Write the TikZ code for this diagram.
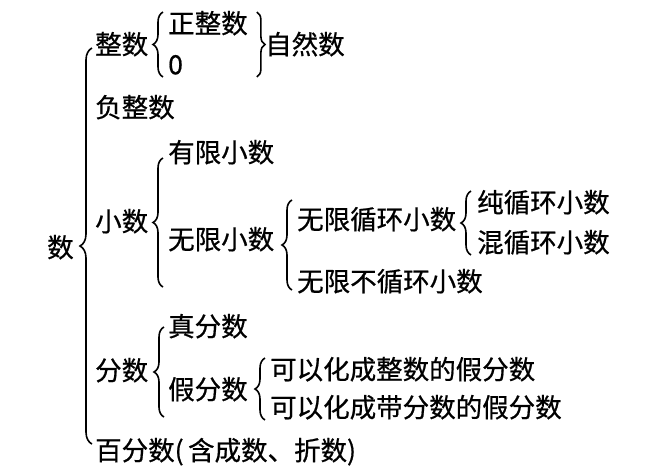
\documentclass[tikz,border=0pt]{standalone}
\usepackage{fontspec}
\setmainfont{Noto Sans CJK SC}[FakeBold=0.7]
\usepackage{tikz}
\usetikzlibrary{calc,decorations.pathreplacing}

\begin{document}
\begin{tikzpicture}[x=1pt,y=1pt,
  lbl/.style={anchor=west,inner sep=0pt,text height=21pt,text depth=2.5pt,
    font=\fontsize{26.5pt}{30pt}\selectfont},
  brc/.style={decorate,decoration={brace,amplitude=#1},line width=1.6pt},
  brc/.default=10pt]
  \useasboundingbox (0,0) rectangle (650,-472);
  % root and first level
  \node[lbl] (shu) at (47,-248) {数};
  \node[lbl] (zhengshu) at (95,-45) {整数};
  \node[lbl] (fuzheng) at (95,-108) {负整数};
  \node[lbl] (xiaoshu) at (95,-222) {小数};
  \node[lbl] (fenshu) at (95,-371) {分数};
  \node[lbl] (baifen) at (95,-451) {百分数(\,含成数、折数)};
  \draw[brc=12pt] ($(baifen.north west)+(-3,-5)$) -- ($(zhengshu.west)+(-3,-3)$);
  % integers
  \node[lbl] (zzs) at (168,-24) {正整数};
  \node[lbl] (ling) at (168,-65) {0};
  \draw[brc] ($(ling.south west)+(-5,0)$) -- ($(zzs.north west)+(-5,0)$);
  \draw[brc=8pt] ($(zzs.north east)+(9,0)$) -- ($(zzs.east |- ling.south)+(9,0)$);
  \node[lbl] (ziran) at (265,-45) {自然数};
  % decimals
  \node[lbl] (youxian) at (168,-153) {有限小数};
  \node[lbl] (wuxian) at (168,-240) {无限小数};
  \node[lbl] (wxxh) at (297,-220) {无限循环小数};
  \node[lbl] (wxbxh) at (297,-282) {无限不循环小数};
  \draw[brc] ($(youxian.west |- wxbxh.west)+(-5,-5)$) -- ($(youxian.west)+(-5,-5)$);
  \draw[brc] ($(wxbxh.west)+(-5,-8)$) -- ($(wxxh.west)+(-5,20)$);
  \node[lbl] (chun) at (477,-203) {纯循环小数};
  \node[lbl] (hun) at (477,-243) {混循环小数};
  \draw[brc] ($(hun.south west)+(-6,0)$) -- ($(chun.north west)+(-6,0)$);
  % fractions
  \node[lbl] (zhen) at (168,-327) {真分数};
  \node[lbl] (jia) at (168,-390) {假分数};
  \node[lbl] (kyzs) at (270,-370) {可以化成整数的假分数};
  \node[lbl] (kydf) at (270,-408) {可以化成带分数的假分数};
  \draw[brc] ($(zhen.west |- kydf.west)+(-4,-9)$) -- ($(zhen.west)+(-4,0)$);
  \draw[brc] ($(kydf.south west)+(-5,0)$) -- ($(kyzs.north west)+(-5,0)$);
\end{tikzpicture}
\end{document}
